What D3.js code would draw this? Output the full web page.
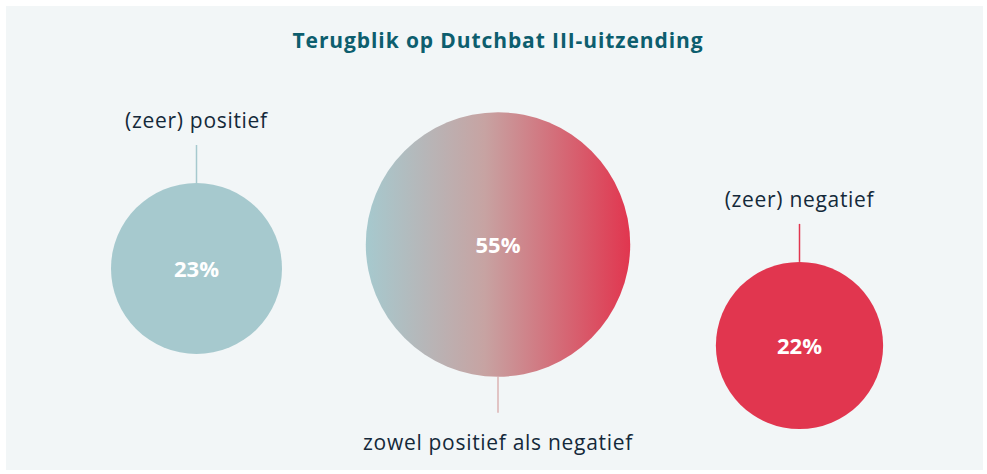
<!DOCTYPE html>
<html>
<head>
<meta charset="utf-8">
<script src="https://cdn.jsdelivr.net/npm/d3@7"></script>
<style>
  body { margin: 0; background: #ffffff; }
  svg { display: block; }
</style>
</head>
<body>
<div id="chart"></div>
<script>
// data
var categories = ["(zeer) positief", "zowel positief als negatief", "(zeer) negatief"];
var values = [23, 55, 22];
var valueLabels = ["23%", "55%", "22%"];
var title = "Terugblik op Dutchbat III-uitzending";

// layout (not data)
var width = 987, height = 474;
var centerY = [268.5, 244.5, 345.5];
var labelSide = ["top", "bottom", "top"];
var teal = "#a6c9ce", red = "#e1364f";
var fills = [teal, "url(#mixGrad)", red];
var lineColors = [teal, "#dbb3b3", red];
var font = "'Open Sans', sans-serif";

const svg = d3.select("#chart")
  .append("svg")
  .attr("width", width)
  .attr("height", height);

// gradient for the middle bubble
var defs = svg.append("defs");
var grad = defs.append("linearGradient")
  .attr("id", "mixGrad")
  .attr("x1", "0%").attr("x2", "100%")
  .attr("y1", "0%").attr("y2", "0%");
grad.append("stop").attr("offset", "0%").attr("stop-color", teal);
grad.append("stop").attr("offset", "45%").attr("stop-color", "#c7a3a2");
grad.append("stop").attr("offset", "100%").attr("stop-color", red);

// panel
svg.append("rect")
  .attr("x", 6).attr("y", 6)
  .attr("width", 977).attr("height", 464)
  .attr("fill", "#f2f6f7");

svg.append("text")
  .attr("x", 498).attr("y", 48)
  .attr("text-anchor", "middle")
  .attr("font-family", font)
  .attr("font-weight", "bold")
  .attr("font-size", "21px")
  .attr("letter-spacing", "0.9px")
  .attr("fill", "#0d5e6e")
  .text(title);

const x = d3.scalePoint()
  .domain(categories)
  .range([196.5, 799.5]);

// area proportional to value
const r = d3.scaleSqrt()
  .domain([0, 23])
  .range([0, 85.5]);

var data = categories.map(function(c, i) {
  return {cat: c, value: values[i], label: valueLabels[i], cy: centerY[i], side: labelSide[i], fill: fills[i], line: lineColors[i]};
});

const g = svg.selectAll("g.bubble")
  .data(data)
  .join("g")
  .attr("class", "bubble");

// connector lines
g.append("line")
  .attr("x1", d => x(d.cat)).attr("x2", d => x(d.cat))
  .attr("y1", d => d.side == "top" ? d.cy - r(d.value) - 38 : d.cy + r(d.value) + 36)
  .attr("y2", d => d.side == "top" ? d.cy - r(d.value) : d.cy + r(d.value))
  .attr("stroke", d => d.line)
  .attr("stroke-width", 1.5);

g.append("circle")
  .attr("cx", d => x(d.cat))
  .attr("cy", d => d.cy)
  .attr("r", d => r(d.value))
  .attr("fill", d => d.fill);

g.append("text")
  .attr("x", d => x(d.cat))
  .attr("y", d => d.cy + 8)
  .attr("text-anchor", "middle")
  .attr("font-family", font)
  .attr("font-weight", "bold")
  .attr("font-size", "22px")
  .attr("fill", "#ffffff")
  .text(d => d.label);

// category labels
g.append("text")
  .attr("x", d => x(d.cat))
  .attr("y", d => d.side == "top" ? d.cy - r(d.value) - 55 : d.cy + r(d.value) + 73)
  .attr("text-anchor", "middle")
  .attr("font-family", font)
  .attr("font-size", "21px")
  .attr("letter-spacing", "0.7px")
  .attr("fill", "#14293a")
  .text(d => d.cat);
</script>
</body>
</html>
